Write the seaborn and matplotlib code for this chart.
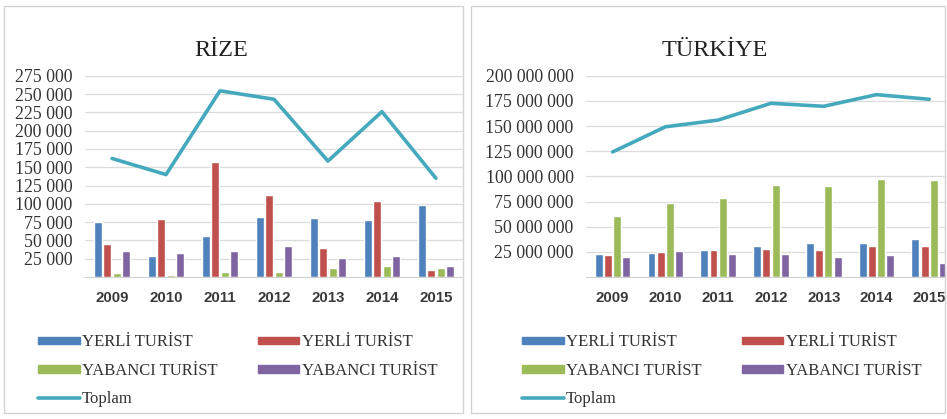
import numpy as np
import pandas as pd
import matplotlib
matplotlib.use("Agg")
import matplotlib.pyplot as plt
import seaborn as sns
from matplotlib.patches import Rectangle, Patch
from matplotlib.lines import Line2D
from matplotlib.ticker import FuncFormatter

# ── DATA ─────────────────────────────────────
years = ["2009", "2010", "2011", "2012", "2013", "2014", "2015"]
series_keys = ["yerli_a", "yerli_b", "yabanci_a", "yabanci_b"]
series_labels = ["YERLİ TURİST", "YERLİ TURİST", "YABANCI TURİST", "YABANCI TURİST"]

rize_yerli_a = [75500, 28000, 55500, 82500, 80500, 78500, 98000]
rize_yerli_b = [45500, 79000, 157000, 112500, 39000, 104500, 10000]
rize_yabanci_a = [6000, 2000, 7300, 7300, 12000, 15000, 12000]
rize_yabanci_b = [35500, 32500, 35500, 42000, 26000, 28000, 15000]
rize_toplam = [162000, 140000, 254500, 243000, 158500, 226000, 135000]

tr_yerli_a = [22.7e6, 23.7e6, 27.3e6, 30.7e6, 33.3e6, 33.3e6, 37.7e6]
tr_yerli_b = [22.0e6, 25.0e6, 27.3e6, 28.3e6, 27.3e6, 30.7e6, 30.7e6]
tr_yabanci_a = [60.3e6, 73.7e6, 78.3e6, 91.0e6, 90.0e6, 97.0e6, 96.0e6]
tr_yabanci_b = [20.3e6, 26.0e6, 22.7e6, 22.7e6, 20.3e6, 21.7e6, 13.7e6]
tr_toplam = [124.3e6, 149.3e6, 156.0e6, 172.7e6, 169.7e6, 181.3e6, 176.7e6]

colors = ["#4F81BD", "#C0504D", "#9BBB59", "#8064A2"]
line_color = "#45A9BD"

SERIF = ["Liberation Serif", "DejaVu Serif"]
SANS = ["Liberation Sans", "DejaVu Sans"]


def long_frame(cols):
    rows = []
    for key, vals in zip(series_keys, cols):
        for y, v in zip(years, vals):
            rows.append({"year": y, "series": key, "value": v})
    return pd.DataFrame(rows)


def space_fmt(v, pos):
    return f"{int(round(v)):,}".replace(",", " ")


def draw_panel(fig, rect, frame, title, title_x, cols, toplam, yticks, xmax,
               legend_x):
    ax = fig.add_axes(rect)
    df = long_frame(cols)
    sns.barplot(data=df, x="year", y="value", hue="series",
                hue_order=series_keys, palette=colors, width=0.7, gap=0.14,
                saturation=1, ax=ax, legend=False)
    sns.lineplot(x=np.arange(len(years)), y=toplam, color=line_color,
                 linewidth=2.6, ax=ax)

    ax.set_ylim(0, yticks[-1])
    ax.set_xlim(-0.5, xmax)
    ax.set_yticks(yticks)
    ax.yaxis.set_major_formatter(FuncFormatter(space_fmt))
    ax.grid(axis="y", color="#dcdcdc", linewidth=0.9)
    ax.set_axisbelow(True)
    for s in ["top", "right", "left"]:
        ax.spines[s].set_visible(False)
    ax.spines["bottom"].set_color("#d0d0d0")
    ax.tick_params(axis="both", length=0)
    ax.tick_params(axis="x", pad=10, labelsize=10.8, colors="#3a3a3a")
    ax.tick_params(axis="y", pad=9, labelsize=12.8, colors="#333333")
    for lbl in ax.get_yticklabels():
        lbl.set_family(SERIF)
    for lbl in ax.get_xticklabels():
        lbl.set_family(SANS)
        lbl.set_fontweight("bold")
    ax.set_xlabel("")
    ax.set_ylabel("")

    fig.patches.append(Rectangle((frame[0], frame[1]), frame[2], frame[3],
                                 transform=fig.transFigure, fill=False,
                                 edgecolor="#d4d4d4", linewidth=1.0))
    fig.text(title_x, 0.88, title, ha="center", va="center", fontsize=17.5,
             family=SERIF, color="#222222")

    handles = [Patch(color=colors[0]), Patch(color=colors[2]),
               Line2D([0], [0], color=line_color, linewidth=2.6),
               Patch(color=colors[1]), Patch(color=colors[3])]
    labels = [series_labels[0], series_labels[2], "Toplam",
              series_labels[1], series_labels[3]]
    leg = fig.legend(handles, labels, ncol=2, loc="upper left",
                     bbox_to_anchor=(legend_x, 0.218), frameon=False,
                     borderaxespad=0, handlelength=2.5, handleheight=0.32,
                     handletextpad=0.15, columnspacing=2.4, labelspacing=0.75,
                     prop={"family": SERIF, "size": 12})
    for t in leg.get_texts():
        t.set_color("#333333")
    return ax


fig = plt.figure(figsize=(9.47, 4.19), dpi=100, facecolor="white")
sns.set_style("white")

draw_panel(fig, [0.0898, 0.339, 0.399, 0.48], (0.004, 0.014, 0.485, 0.972),
           "RİZE", 0.2335,
           [rize_yerli_a, rize_yerli_b, rize_yabanci_a, rize_yabanci_b],
           rize_toplam, list(range(25000, 275001, 25000)), 6.5, 0.033)

draw_panel(fig, [0.619, 0.339, 0.379, 0.48], (0.497, 0.014, 0.501, 0.972),
           "TÜRKİYE", 0.755,
           [tr_yerli_a, tr_yerli_b, tr_yabanci_a, tr_yabanci_b],
           tr_toplam, [25e6 * i for i in range(1, 9)], 6.3, 0.544)

fig.savefig("out.png", dpi=100, facecolor="white")
